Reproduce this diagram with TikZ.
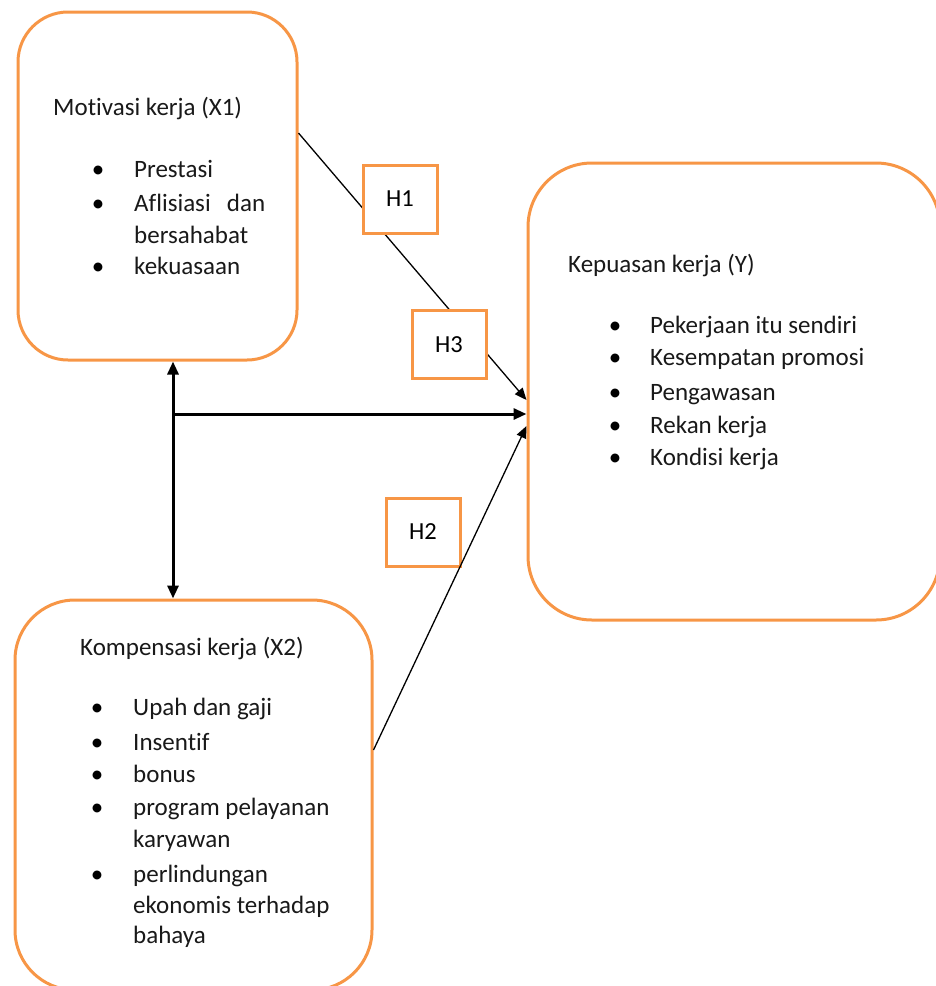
\documentclass[tikz,border=0pt]{standalone}
\usepackage{fontspec}
\setmainfont[Ligatures=NoCommon]{Carlito}
\usetikzlibrary{arrows.meta}
\definecolor{boxorange}{RGB}{247,150,70}
\begin{document}
\begin{tikzpicture}[x=1pt,y=-1pt,
 bigbox/.style={draw=boxorange, line width=3pt, fill=white, inner sep=0pt},
 hbox/.style={draw=boxorange, line width=3pt, fill=white, minimum width=74pt, minimum height=68pt, inner sep=0pt, font=\fontsize{24.5}{28}\selectfont},
 txt/.style={anchor=base west, inner sep=0pt, font=\fontsize{25}{33}\selectfont, text=black!90},
 bul/.style={anchor=base, inner sep=0pt, font=\fontsize{25}{33}\selectfont},
 thinarrow/.style={line width=1.3pt, -{Triangle[length=12pt,width=10pt]}},
 thickarrow/.style={line width=3pt, -{Triangle[length=13pt,width=11pt]}},
 dblarrow/.style={line width=3pt, {Triangle[length=13pt,width=11pt]}-{Triangle[length=13pt,width=11pt]}}
]
\useasboundingbox (0,0) rectangle (936,986);

% big boxes
\node[bigbox, rounded corners=50pt, minimum width=279pt, minimum height=348pt] (X1) at (157.5,186) {};
\node[bigbox, rounded corners=64pt, minimum width=412pt, minimum height=457pt] (Y) at (734,391.5) {};
\node[bigbox, rounded corners=60pt, minimum width=357pt, minimum height=390pt] (X2) at (193.5,795) {};

% helper coordinates
\coordinate (vx) at (173,0);
\coordinate (hj) at (173,414);
\coordinate (h1s) at (0,133);
\coordinate (h1e) at (0,400);
\coordinate (h2s) at (0,750);
\coordinate (h2e) at (0,426);

% connectors
\draw[dblarrow] (X1.south -| vx) -- (X2.north -| vx);
\draw[thickarrow] (hj) -- (hj -| Y.west);
\draw[thinarrow] (X1.east |- h1s) -- (Y.west |- h1e);

% hypothesis boxes
\node[hbox] (H1) at (400,199) {H1};
\node[hbox] (H3) at (449,344.5) {H3};
\node[hbox] (H2) at (423,532) {H2};
\draw[thinarrow] (X2.east |- h2s) -- (Y.west |- h2e);

% X1 text
\node[txt] (t1) at (53,115) {Motivasi kerja (X1)};
\node[bul] (b11) at (98,177) {•};
\node[txt] (t11) at (134,177) {Prestasi};
\node[bul] (b12) at (98,211) {•};
\node[txt] (t12) at (134,211) {\makebox[131pt][s]{Aflisiasi dan}};
\node[txt] (t13) at (134,243) {bersahabat};
\node[bul] (b14) at (98,274) {•};
\node[txt] (t14) at (134,274) {kekuasaan};

% Y text
\node[txt] (ty) at (568,272) {Kepuasan kerja (Y)};
\node[bul] (by1) at (615,333) {•};
\node[txt] (ty1) at (650,333) {Pekerjaan itu sendiri};
\node[bul] (by2) at (615,365) {•};
\node[txt] (ty2) at (650,365) {Kesempatan promosi};
\node[bul] (by3) at (615,400) {•};
\node[txt] (ty3) at (650,400) {Pengawasan};
\node[bul] (by4) at (615,433) {•};
\node[txt] (ty4) at (650,433) {Rekan kerja};
\node[bul] (by5) at (615,465) {•};
\node[txt] (ty5) at (650,465) {Kondisi kerja};

% X2 text
\node[txt] (t2) at (80,655) {Kompensasi kerja (X2)};
\node[bul] (b21) at (97,715) {•};
\node[txt] (t21) at (133,715) {Upah dan gaji};
\node[bul] (b22) at (97,750) {•};
\node[txt] (t22) at (133,750) {Insentif};
\node[bul] (b23) at (97,782) {•};
\node[txt] (t23) at (133,782) {bonus};
\node[bul] (b24) at (97,815) {•};
\node[txt] (t24) at (133,815) {program pelayanan};
\node[txt] (t25) at (133,847) {karyawan};
\node[bul] (b26) at (97,882) {•};
\node[txt] (t26) at (133,882) {perlindungan};
\node[txt] (t27) at (133,913) {ekonomis terhadap};
\node[txt] (t28) at (133,943) {bahaya};
\end{tikzpicture}
\end{document}
